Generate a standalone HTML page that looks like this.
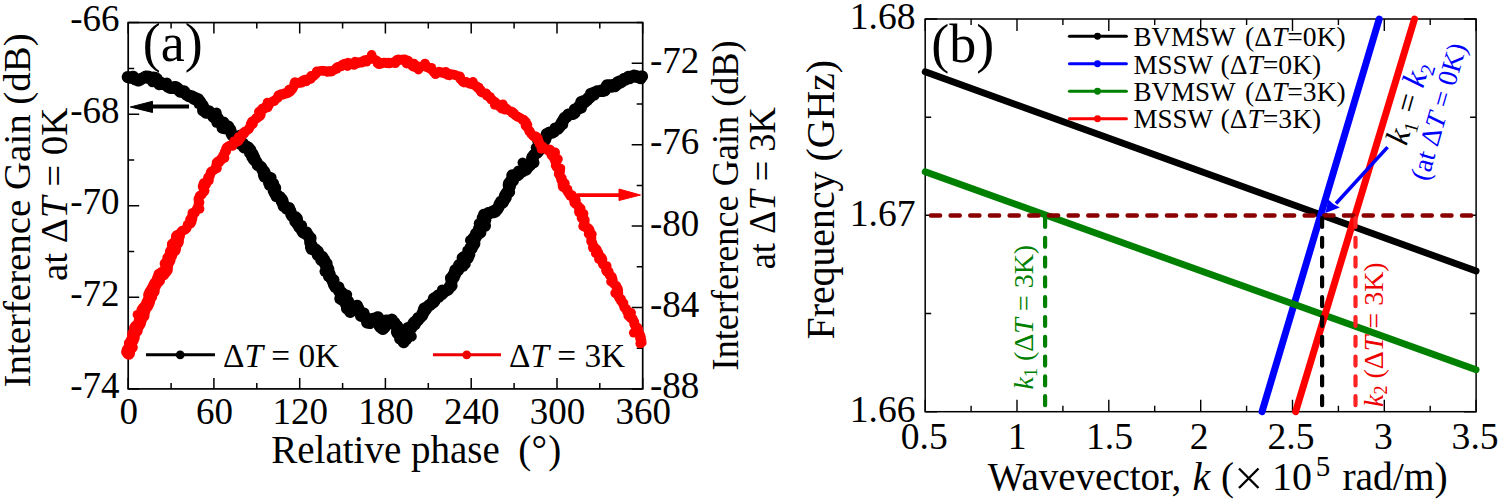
<!DOCTYPE html>
<html><head><meta charset="utf-8"><style>
html,body{margin:0;padding:0;background:#fff;}
svg{display:block;}
</style></head><body>
<svg width="1498" height="500" viewBox="0 0 1498 500">
<rect width="1498" height="500" fill="#fff"/>
<rect x="128.2" y="22.6" width="514.5" height="366.3" fill="none" stroke="#000" stroke-width="1.7"/>
<path d="M128.2,388.9v-11M128.2,22.6v11M171.1,388.9v-6M171.1,22.6v6M213.9,388.9v-11M213.9,22.6v11M256.8,388.9v-6M256.8,22.6v6M299.7,388.9v-11M299.7,22.6v11M342.6,388.9v-6M342.6,22.6v6M385.4,388.9v-11M385.4,22.6v11M428.3,388.9v-6M428.3,22.6v6M471.2,388.9v-11M471.2,22.6v11M514.1,388.9v-6M514.1,22.6v6M557.0,388.9v-11M557.0,22.6v11M599.8,388.9v-6M599.8,22.6v6M642.7,388.9v-11M642.7,22.6v11M128.2,388.9h11M128.2,343.1h6M128.2,297.3h11M128.2,251.5h6M128.2,205.8h11M128.2,160.0h6M128.2,114.2h11M128.2,68.4h6M128.2,22.6h11M642.7,388.9h-11M642.7,348.2h-6M642.7,307.5h-11M642.7,266.8h-6M642.7,226.1h-11M642.7,185.4h-6M642.7,144.7h-11M642.7,104.0h-6M642.7,63.3h-11M642.7,22.6h-6" stroke="#000" stroke-width="1.5" fill="none"/>
<polyline points="127.7,77.0 129.6,77.7 132.0,77.0 133.4,76.8 134.3,78.3 136.5,79.9 138.3,80.5 140.0,79.7 141.6,78.8 143.6,77.9 145.1,77.1 145.6,76.4 148.4,76.8 148.7,78.1 150.8,78.4 153.1,77.6 154.9,77.7 156.9,78.9 157.4,81.5 158.5,83.1 159.2,84.3 161.3,83.0 162.4,84.1 164.6,84.1 165.9,84.5 167.5,86.4 168.4,87.0 170.3,88.0 172.5,87.9 174.2,87.2 175.5,86.9 177.5,88.1 177.8,89.4 178.9,90.1 180.2,91.7 182.4,91.6 184.1,91.2 185.2,92.9 186.5,94.7 188.2,95.8 189.5,96.3 191.4,96.3 192.4,96.5 193.3,98.4 194.8,99.2 195.7,99.1 198.2,99.3 198.5,101.2 199.1,103.2 201.0,103.7 202.0,104.6 202.9,106.0 203.1,107.2 203.1,110.4 204.3,110.9 206.0,112.8 207.0,112.5 209.3,112.2 210.6,113.5 212.0,114.4 213.3,116.7 215.6,116.3 216.6,117.4 217.9,118.3 217.6,120.6 220.3,121.1 221.4,122.4 223.5,122.5 222.2,125.4 222.5,127.8 225.3,128.3 228.2,126.4 228.4,128.1 230.2,129.4 230.5,130.6 231.3,133.0 232.2,134.9 233.1,135.9 233.6,136.4 235.6,137.7 236.6,139.5 237.3,140.9 238.2,141.8 239.3,142.7 241.8,142.9 243.1,143.6 243.5,144.9 244.1,147.5 246.2,146.6 248.6,147.9 249.2,148.9 250.4,150.1 250.7,152.1 252.4,153.8 253.0,155.1 252.3,156.9 254.4,158.6 253.9,159.6 255.8,161.2 256.5,162.0 257.6,164.3 257.6,164.9 259.4,166.1 261.0,167.0 262.1,168.9 262.3,169.9 264.0,171.2 264.6,172.4 263.9,174.9 264.5,176.6 266.9,176.2 268.3,177.2 269.5,179.3 269.0,180.3 269.0,182.9 270.2,182.8 270.0,185.1 273.4,186.1 273.8,187.6 275.2,188.0 273.7,190.9 274.2,191.7 275.0,193.3 276.1,194.3 277.2,194.9 278.2,196.6 280.2,197.4 281.1,198.7 281.3,200.7 282.7,201.5 282.5,203.0 283.9,204.7 283.6,206.1 285.6,206.6 286.4,208.4 289.1,207.9 289.2,209.2 290.4,211.2 291.1,213.4 291.2,214.1 292.3,216.2 293.6,216.8 295.5,217.1 296.9,218.6 297.1,221.0 297.1,222.2 297.5,224.0 299.0,226.2 299.2,226.9 300.7,228.4 301.8,230.1 302.9,232.1 304.3,233.3 306.6,232.7 307.3,234.2 308.1,235.5 309.7,237.3 310.6,237.9 310.2,240.4 310.2,242.8 311.2,244.5 311.4,244.7 311.0,247.4 311.8,249.2 313.6,249.5 315.7,250.7 317.9,251.5 317.4,252.9 317.7,255.0 319.6,255.4 320.5,256.6 322.3,256.8 321.3,260.2 324.2,259.6 324.0,262.3 324.8,262.8 325.4,265.1 326.6,265.7 327.2,267.5 328.3,268.9 328.0,269.5 328.2,271.0 329.2,273.2 329.8,274.4 329.5,276.3 330.8,277.6 331.4,278.6 333.4,280.0 332.8,281.4 333.5,282.6 333.9,284.5 334.7,285.6 336.0,286.5 338.5,287.2 338.7,288.6 339.5,290.4 339.2,291.3 341.6,292.4 341.5,294.0 340.8,296.8 340.3,298.7 342.4,300.0 343.7,300.6 346.1,300.8 346.7,303.5 346.1,304.5 347.4,306.0 347.0,308.6 348.8,309.6 350.3,312.0 351.6,308.1 352.5,308.0 354.6,307.7 355.7,307.4 357.1,305.8 357.6,307.1 357.8,310.0 359.0,310.2 360.3,312.4 360.5,312.6 360.9,315.9 362.0,315.6 364.7,316.4 365.9,317.8 366.5,318.6 366.9,320.3 367.1,322.5 368.8,322.8 369.8,323.1 369.8,321.3 369.8,319.3 373.0,320.7 373.7,319.7 376.3,318.7 377.1,317.4 378.1,317.2 378.3,318.5 377.9,320.6 379.2,321.9 379.4,323.4 379.5,325.1 379.7,326.5 382.9,329.0 385.1,326.8 385.2,323.7 386.1,323.0 386.4,320.4 389.5,320.8 392.0,319.6 393.1,323.1 394.6,323.0 395.1,325.2 397.0,325.9 397.9,328.4 397.2,330.2 396.9,332.0 397.7,333.4 399.4,333.7 400.0,335.9 400.9,336.2 403.4,337.0 403.4,339.0 404.2,340.3 403.7,342.2 403.5,340.2 406.2,339.4 406.8,337.8 407.6,337.0 408.4,335.3 407.7,333.5 406.7,331.1 407.4,329.3 409.7,328.5 411.2,328.2 411.8,327.0 413.0,324.2 414.0,322.4 415.8,322.1 415.9,321.1 418.0,320.2 418.3,317.9 420.2,317.8 420.6,317.1 421.6,316.1 422.1,314.2 422.7,313.1 424.0,311.9 423.6,310.5 424.2,308.5 426.6,307.4 427.6,306.9 428.7,305.6 430.1,305.0 431.3,303.5 432.7,303.0 433.3,302.5 434.6,300.5 433.9,298.3 436.1,297.5 437.2,296.4 438.8,296.9 440.1,294.8 441.8,294.3 442.8,292.9 443.7,292.5 444.9,291.2 447.0,290.1 448.0,289.8 449.2,287.9 451.5,285.8 451.0,284.8 451.3,283.1 451.7,280.8 451.2,279.3 451.0,278.3 453.8,277.3 453.8,276.2 455.2,274.2 455.0,272.1 455.0,270.3 456.5,269.3 458.2,269.2 459.2,267.8 459.0,265.1 461.2,265.0 463.5,264.5 464.6,263.9 463.3,260.0 463.8,258.2 463.8,257.1 467.7,258.3 468.5,256.1 469.3,254.5 468.6,253.3 468.3,250.8 469.8,250.0 470.2,248.2 472.0,247.1 472.6,245.6 474.4,244.0 474.3,242.7 473.7,240.9 473.6,237.9 475.3,238.0 476.5,235.6 476.0,233.6 478.8,233.4 480.4,232.5 480.3,230.6 478.9,228.6 480.4,227.4 481.4,226.5 485.0,225.8 483.9,223.3 483.2,221.3 483.5,220.4 482.7,218.0 483.8,216.2 484.0,214.7 487.2,214.9 487.7,214.0 488.6,213.0 490.3,212.8 492.1,212.2 494.4,212.2 495.5,211.4 495.7,210.0 497.3,209.2 498.1,207.8 499.1,205.8 499.7,203.8 500.6,202.6 501.0,201.8 503.3,201.8 503.4,200.0 504.8,199.0 504.8,197.2 504.8,195.9 505.5,194.7 506.9,192.7 509.1,192.1 508.6,190.7 508.7,189.3 509.2,187.6 508.7,185.1 509.0,183.4 510.5,181.6 512.9,180.9 512.2,179.3 512.8,177.5 512.3,175.4 515.0,174.8 517.6,175.4 519.0,174.1 518.7,171.5 520.1,171.5 522.8,171.2 523.9,170.2 526.4,169.6 526.9,168.2 528.7,166.5 528.3,164.9 530.5,164.7 531.4,162.8 532.7,161.6 532.2,159.1 532.1,157.4 533.5,156.5 533.7,155.7 535.4,153.7 537.4,152.5 538.8,150.8 538.2,149.2 540.0,147.9 541.2,146.4 542.0,145.9 541.5,143.4 543.2,142.3 543.5,141.0 545.2,139.9 545.8,137.4 546.4,136.6 546.7,134.0 548.2,133.4 549.8,132.4 552.2,132.7 553.6,131.9 554.6,130.9 555.6,129.5 557.8,128.8 559.1,127.4 560.1,126.2 560.9,124.5 562.2,124.1 562.0,122.1 563.4,120.4 563.8,119.5 564.8,117.7 566.5,117.1 568.2,114.7 568.7,114.4 570.6,114.1 573.0,114.0 574.8,112.9 575.0,111.9 574.8,109.4 577.1,109.3 578.3,108.7 580.9,107.7 580.7,105.7 581.1,104.2 581.3,102.0 583.3,101.1 585.0,101.4 587.1,100.3 587.3,99.3 588.7,97.5 589.8,97.5 591.2,95.5 591.0,93.6 592.4,93.7 593.8,92.6 596.0,92.3 597.2,91.2 599.3,91.0 600.9,90.8 602.6,91.1 603.7,90.9 605.0,89.0 605.7,87.8 607.1,85.3 608.8,85.2 610.7,85.2 612.8,85.1 615.0,86.2 615.2,84.7 617.3,83.1 617.7,82.1 620.2,81.3 621.2,82.2 623.3,80.5 623.7,79.1 625.6,79.5 627.3,78.1 629.5,78.3 629.6,76.7 631.8,76.7 634.0,75.6 635.7,75.9 635.8,76.2 637.4,76.9 639.0,77.6 640.8,76.7 642.1,76.4" fill="none" stroke="#000" stroke-width="12" stroke-linejoin="round" stroke-linecap="round"/>
<g fill="#000"><circle cx="127.5" cy="77.3" r="5.2"/><circle cx="134.6" cy="79.8" r="5.2"/><circle cx="141.3" cy="78.1" r="5.2"/><circle cx="147.9" cy="77.1" r="5.2"/><circle cx="152.4" cy="82.1" r="5.2"/><circle cx="159.5" cy="83.9" r="5.2"/><circle cx="166.9" cy="82.6" r="5.2"/><circle cx="171.7" cy="88.2" r="5.2"/><circle cx="178.1" cy="89.2" r="5.2"/><circle cx="183.6" cy="92.8" r="5.2"/><circle cx="189.9" cy="95.0" r="5.2"/><circle cx="195.8" cy="97.2" r="5.2"/><circle cx="200.8" cy="101.3" r="5.2"/><circle cx="204.0" cy="107.1" r="5.2"/><circle cx="209.4" cy="110.5" r="5.2"/><circle cx="216.5" cy="112.6" r="5.2"/><circle cx="216.5" cy="122.6" r="5.2"/><circle cx="224.2" cy="124.0" r="5.2"/><circle cx="228.2" cy="128.9" r="5.2"/><circle cx="231.6" cy="134.8" r="5.2"/><circle cx="240.3" cy="134.7" r="5.2"/><circle cx="240.1" cy="144.5" r="5.2"/><circle cx="247.6" cy="146.4" r="5.2"/><circle cx="249.3" cy="153.4" r="5.2"/><circle cx="255.1" cy="157.5" r="5.2"/><circle cx="257.5" cy="163.7" r="5.2"/><circle cx="261.6" cy="168.8" r="5.2"/><circle cx="265.1" cy="174.0" r="5.2"/><circle cx="271.4" cy="177.5" r="5.2"/><circle cx="273.9" cy="183.2" r="5.2"/><circle cx="274.7" cy="190.0" r="5.2"/><circle cx="275.8" cy="196.8" r="5.2"/><circle cx="282.7" cy="199.3" r="5.2"/><circle cx="284.9" cy="205.4" r="5.2"/><circle cx="289.1" cy="210.2" r="5.2"/><circle cx="292.1" cy="215.9" r="5.2"/><circle cx="294.6" cy="221.9" r="5.2"/><circle cx="301.9" cy="225.2" r="5.2"/><circle cx="304.6" cy="232.2" r="5.2"/><circle cx="308.5" cy="237.6" r="5.2"/><circle cx="311.1" cy="243.7" r="5.2"/><circle cx="315.7" cy="248.4" r="5.2"/><circle cx="319.3" cy="253.8" r="5.2"/><circle cx="323.4" cy="258.3" r="5.2"/><circle cx="327.4" cy="263.1" r="5.2"/><circle cx="324.7" cy="271.5" r="5.2"/><circle cx="328.2" cy="276.6" r="5.2"/><circle cx="333.6" cy="281.4" r="5.2"/><circle cx="334.8" cy="287.5" r="5.2"/><circle cx="340.5" cy="291.3" r="5.2"/><circle cx="347.0" cy="294.7" r="5.2"/><circle cx="348.9" cy="301.0" r="5.2"/><circle cx="349.7" cy="308.8" r="5.2"/><circle cx="356.1" cy="310.0" r="5.2"/><circle cx="359.1" cy="308.5" r="5.2"/><circle cx="364.3" cy="312.6" r="5.2"/><circle cx="366.7" cy="318.6" r="5.2"/><circle cx="370.3" cy="322.1" r="5.2"/><circle cx="372.8" cy="318.0" r="5.2"/><circle cx="379.0" cy="318.1" r="5.2"/><circle cx="382.3" cy="323.8" r="5.2"/><circle cx="385.0" cy="323.9" r="5.2"/><circle cx="391.9" cy="319.9" r="5.2"/><circle cx="397.5" cy="325.6" r="5.2"/><circle cx="398.8" cy="332.4" r="5.2"/><circle cx="399.3" cy="339.1" r="5.2"/><circle cx="404.3" cy="340.6" r="5.2"/><circle cx="411.6" cy="336.4" r="5.2"/><circle cx="407.5" cy="327.1" r="5.2"/><circle cx="415.5" cy="324.8" r="5.2"/><circle cx="418.0" cy="318.4" r="5.2"/><circle cx="423.2" cy="315.2" r="5.2"/><circle cx="426.5" cy="309.8" r="5.2"/><circle cx="430.1" cy="304.6" r="5.2"/><circle cx="435.2" cy="301.3" r="5.2"/><circle cx="437.9" cy="294.8" r="5.2"/><circle cx="442.1" cy="289.8" r="5.2"/><circle cx="448.5" cy="287.0" r="5.2"/><circle cx="451.5" cy="281.3" r="5.2"/><circle cx="452.6" cy="274.6" r="5.2"/><circle cx="458.6" cy="270.9" r="5.2"/><circle cx="463.3" cy="266.5" r="5.2"/><circle cx="461.8" cy="257.8" r="5.2"/><circle cx="468.2" cy="254.4" r="5.2"/><circle cx="472.4" cy="248.9" r="5.2"/><circle cx="470.2" cy="240.3" r="5.2"/><circle cx="477.0" cy="236.2" r="5.2"/><circle cx="479.2" cy="229.8" r="5.2"/><circle cx="478.9" cy="223.4" r="5.2"/><circle cx="486.1" cy="220.3" r="5.2"/><circle cx="488.3" cy="214.5" r="5.2"/><circle cx="492.9" cy="210.4" r="5.2"/><circle cx="498.7" cy="207.9" r="5.2"/><circle cx="503.0" cy="203.2" r="5.2"/><circle cx="506.6" cy="197.8" r="5.2"/><circle cx="508.6" cy="192.0" r="5.2"/><circle cx="510.7" cy="186.4" r="5.2"/><circle cx="511.3" cy="178.9" r="5.2"/><circle cx="517.0" cy="174.4" r="5.2"/><circle cx="522.7" cy="170.9" r="5.2"/><circle cx="522.7" cy="162.6" r="5.2"/><circle cx="534.3" cy="162.8" r="5.2"/><circle cx="533.4" cy="154.6" r="5.2"/><circle cx="535.9" cy="147.6" r="5.2"/><circle cx="537.5" cy="141.2" r="5.2"/><circle cx="544.8" cy="137.2" r="5.2"/><circle cx="549.8" cy="132.6" r="5.2"/><circle cx="554.8" cy="127.7" r="5.2"/><circle cx="560.2" cy="124.0" r="5.2"/><circle cx="563.5" cy="118.5" r="5.2"/><circle cx="569.7" cy="114.9" r="5.2"/><circle cx="574.8" cy="111.1" r="5.2"/><circle cx="578.5" cy="105.7" r="5.2"/><circle cx="584.8" cy="103.0" r="5.2"/><circle cx="589.2" cy="98.4" r="5.2"/><circle cx="594.5" cy="95.2" r="5.2"/><circle cx="599.3" cy="91.6" r="5.2"/><circle cx="605.5" cy="90.9" r="5.2"/><circle cx="611.5" cy="87.6" r="5.2"/><circle cx="617.7" cy="84.7" r="5.2"/><circle cx="623.2" cy="80.8" r="5.2"/><circle cx="628.1" cy="76.0" r="5.2"/><circle cx="634.6" cy="77.3" r="5.2"/><circle cx="641.1" cy="79.1" r="5.2"/></g>
<polyline points="128.7,353.4 127.5,352.0 128.1,349.8 129.4,348.7 131.4,347.4 130.7,345.7 130.2,343.4 131.2,342.5 132.0,340.7 132.9,339.0 133.4,337.7 133.4,335.8 133.5,333.9 134.0,333.1 135.5,331.5 136.4,330.5 135.4,328.0 136.2,326.7 137.9,325.9 139.0,324.3 139.7,323.0 139.8,321.6 140.6,319.9 140.4,318.1 141.7,316.5 143.2,315.7 143.2,313.9 143.3,312.2 142.7,310.2 143.9,308.6 145.3,307.1 146.5,306.4 147.6,304.6 147.6,302.7 148.7,302.1 149.0,299.7 149.8,298.0 150.8,296.8 149.5,295.0 150.3,293.1 150.9,291.7 153.4,291.2 152.5,289.2 153.8,287.3 154.4,285.6 155.1,284.5 155.7,283.2 156.9,281.9 158.7,280.4 158.2,278.9 159.0,277.1 159.6,274.9 161.3,274.5 162.2,272.9 164.5,272.5 165.1,271.4 166.5,269.9 166.5,267.6 166.8,265.7 166.1,263.9 167.3,263.2 168.4,261.6 169.2,260.1 168.6,258.1 169.5,257.2 170.8,255.6 171.1,254.4 171.2,252.3 172.8,251.4 174.3,250.2 174.7,248.8 173.7,246.7 173.2,244.6 174.0,243.9 177.1,242.9 177.6,241.5 177.5,240.1 177.8,237.9 177.3,236.3 178.6,236.0 180.1,234.6 180.3,233.0 180.8,231.9 181.9,230.7 184.2,230.2 185.4,229.7 186.7,228.4 187.4,226.7 188.3,225.4 188.5,224.2 190.9,223.6 191.8,221.6 192.0,220.0 192.6,218.8 191.9,216.2 193.3,215.5 193.8,213.3 195.3,212.7 195.6,210.5 196.5,209.6 197.1,208.1 197.6,207.1 198.7,205.6 198.4,203.5 199.4,202.1 198.4,200.6 198.3,198.5 199.5,197.5 200.2,196.1 201.9,194.5 202.7,193.0 203.9,192.1 203.9,190.7 203.5,189.0 202.5,186.5 202.8,185.4 203.7,182.9 205.6,183.0 206.5,181.0 209.0,180.6 209.1,178.7 208.7,176.3 210.3,175.4 210.2,173.3 211.2,172.8 211.9,171.0 214.2,170.1 215.1,168.4 215.6,167.0 216.1,165.0 217.2,164.3 216.5,162.5 217.7,161.2 219.1,160.6 221.5,159.8 221.2,158.4 222.6,157.0 223.0,155.3 224.3,154.3 224.4,152.2 226.1,151.4 225.8,148.9 226.7,147.1 227.9,146.8 229.7,145.8 232.4,146.0 232.9,144.4 234.4,143.6 234.7,141.8 236.6,141.9 238.8,141.2 239.1,139.9 240.5,138.4 241.1,137.7 241.9,135.0 242.2,133.8 243.5,132.7 244.6,131.5 246.2,131.0 247.6,130.1 249.0,129.0 249.6,127.3 250.9,125.6 250.5,124.1 251.3,123.0 251.7,121.5 253.7,120.5 255.0,119.2 256.1,117.9 257.8,117.5 259.6,116.4 260.7,115.4 261.0,114.0 261.1,111.3 261.3,110.0 262.0,108.5 264.5,108.6 264.9,107.2 267.8,107.5 268.1,105.3 269.0,105.2 269.4,102.6 271.2,102.3 273.1,101.0 274.2,100.9 275.2,99.9 276.3,98.8 277.9,98.0 278.4,96.1 279.9,95.9 280.8,94.1 283.2,94.7 284.1,93.5 286.3,93.7 287.9,93.2 289.2,92.4 290.2,91.9 291.5,90.3 292.7,88.9 293.3,87.6 294.0,86.0 294.2,83.6 294.8,81.9 297.9,83.0 299.5,83.1 302.0,82.9 301.9,80.9 303.5,79.9 305.1,79.4 307.4,79.7 308.9,78.6 311.0,79.0 312.1,77.0 313.6,76.3 314.7,75.1 316.1,73.9 316.7,72.1 319.1,71.4 320.3,70.9 322.1,70.5 323.5,70.8 326.1,71.1 327.5,72.0 328.6,71.0 330.1,71.8 331.8,71.5 333.4,70.2 334.9,69.8 336.1,67.8 337.7,66.7 338.9,66.7 341.1,66.6 342.8,65.4 343.7,64.8 344.6,63.5 346.2,63.8 348.0,62.6 349.4,63.2 350.5,63.2 352.3,63.0 353.9,62.7 354.9,61.6 356.9,62.1 358.4,63.2 360.0,62.8 361.8,62.8 363.4,61.5 363.9,60.3 365.8,59.7 367.8,60.4 369.3,58.9 370.8,58.7 371.1,57.2 372.3,59.1 373.8,59.0 376.1,60.2 377.2,61.0 377.3,63.4 379.0,64.3 381.0,63.9 382.3,62.9 383.2,62.4 385.2,62.4 386.8,63.4 389.1,63.5 390.2,63.4 392.0,62.8 393.1,62.4 395.3,61.2 396.7,59.8 398.4,59.3 399.3,60.3 401.6,59.7 402.6,59.5 404.5,59.1 405.8,59.7 408.1,60.4 409.2,61.7 409.9,63.4 411.0,64.5 412.4,66.2 413.8,67.1 416.0,66.0 417.6,66.1 418.9,66.3 419.7,66.7 421.6,66.7 423.0,65.9 424.4,65.9 426.3,65.8 427.0,67.5 428.8,68.1 430.6,69.2 431.7,69.3 432.9,71.2 433.7,72.3 435.8,73.6 438.0,72.7 438.9,71.6 440.8,72.2 442.3,73.0 444.1,73.5 446.0,71.8 447.2,73.6 447.7,75.2 449.2,75.5 451.5,74.3 454.1,74.5 455.1,74.9 457.2,75.7 458.4,76.3 459.9,76.1 460.9,78.6 462.0,80.5 462.7,81.9 463.9,82.7 466.1,82.3 467.8,82.6 468.8,83.7 470.7,83.8 471.8,84.5 473.7,84.5 474.7,85.6 476.0,85.7 477.1,87.6 479.0,87.5 479.6,90.0 480.8,90.0 481.3,92.1 483.0,92.9 484.5,93.2 486.0,93.3 486.6,95.7 487.6,95.7 488.7,97.1 490.3,97.0 491.2,99.5 492.5,100.0 494.1,101.4 495.2,101.9 495.8,103.2 497.3,103.6 498.6,104.8 499.4,106.6 500.8,107.6 501.6,108.7 503.8,108.8 504.5,109.6 506.7,108.6 508.3,110.1 510.1,110.8 511.1,111.3 512.4,111.7 514.2,113.1 514.5,114.6 516.1,116.0 517.1,116.7 519.1,117.4 520.9,118.1 521.9,119.1 523.9,119.6 524.8,120.9 526.1,121.8 526.1,123.7 525.4,125.7 526.8,126.8 528.0,128.8 528.9,130.0 529.2,131.5 530.3,132.4 531.4,134.3 532.0,134.9 534.5,135.8 536.5,136.4 538.1,138.6 537.7,140.5 539.0,141.9 539.5,144.1 540.4,144.5 541.8,146.2 542.8,146.4 544.1,147.7 545.3,148.9 546.6,149.3 548.6,149.4 549.9,149.3 551.1,150.6 552.5,152.6 551.2,154.9 551.7,155.7 553.2,157.0 553.8,158.2 554.7,160.5 555.4,162.2 556.2,163.2 555.5,165.5 556.5,166.8 558.0,167.4 560.5,168.4 560.1,171.0 558.8,172.2 558.6,174.1 559.4,175.4 560.6,176.9 560.7,178.1 561.0,179.8 561.8,181.2 562.5,182.6 562.3,184.7 562.7,187.2 564.2,187.6 566.0,189.3 567.7,189.2 567.5,192.0 568.3,192.9 569.8,195.3 570.2,196.1 572.6,196.4 574.0,197.6 575.0,198.9 573.9,200.9 574.3,203.0 575.1,203.7 576.8,204.8 577.6,205.8 578.6,207.6 580.8,208.3 578.9,211.1 580.6,211.8 580.8,213.2 583.6,213.9 583.2,216.0 583.6,218.0 583.3,219.6 584.9,220.0 584.8,222.1 584.3,223.5 583.0,226.3 584.9,227.1 587.3,227.3 589.0,228.5 589.8,229.9 588.9,232.0 588.5,234.0 589.6,234.8 591.0,236.6 591.6,238.0 591.2,239.7 591.3,241.9 592.5,242.6 592.9,244.7 593.5,245.4 594.1,247.0 595.3,247.9 597.0,249.6 597.2,251.1 598.5,252.6 598.2,254.4 600.0,255.7 600.8,256.8 601.8,257.7 602.6,259.2 602.3,260.9 602.3,262.8 602.9,264.5 605.1,265.7 606.8,266.0 606.9,268.4 606.8,270.0 606.8,271.7 609.0,272.0 609.1,274.0 610.5,275.4 611.1,275.9 612.1,276.9 612.6,278.4 613.0,280.4 612.8,281.8 613.6,283.7 614.7,284.8 616.3,286.4 617.0,287.4 618.0,288.7 618.4,290.5 618.2,292.2 618.5,293.1 617.9,295.7 618.5,296.8 619.3,298.5 621.1,298.9 620.7,300.8 622.2,302.5 622.8,303.7 623.2,304.8 623.9,306.5 624.1,307.5 625.8,309.1 626.8,309.9 626.8,311.7 627.8,312.7 628.6,314.8 628.2,315.9 630.0,317.3 630.3,318.0 632.8,319.1 633.1,320.5 634.5,321.9 634.0,324.0 634.8,325.4 635.8,326.3 637.6,327.6 638.4,329.2 638.2,331.0 638.4,331.7 639.9,333.9 639.9,335.9 640.0,337.3 639.8,338.3 641.6,340.0 641.7,341.4 641.9,342.6" fill="none" stroke="#f00" stroke-width="9.4" stroke-linejoin="round" stroke-linecap="round"/>
<polyline points="128.7,353.4 127.5,352.0 128.1,349.8 129.4,348.7 131.4,347.4 130.7,345.7 130.2,343.4 131.2,342.5 132.0,340.7 132.9,339.0 133.4,337.7 133.4,335.8 133.5,333.9 134.0,333.1 135.5,331.5 136.4,330.5 135.4,328.0 136.2,326.7 137.9,325.9 139.0,324.3 139.7,323.0 139.8,321.6 140.6,319.9 140.4,318.1 141.7,316.5 143.2,315.7 143.2,313.9 143.3,312.2 142.7,310.2 143.9,308.6 145.3,307.1 146.5,306.4 147.6,304.6 147.6,302.7 148.7,302.1 149.0,299.7 149.8,298.0 150.8,296.8 149.5,295.0 150.3,293.1 150.9,291.7 153.4,291.2 152.5,289.2 153.8,287.3 154.4,285.6 155.1,284.5 155.7,283.2 156.9,281.9 158.7,280.4 158.2,278.9 159.0,277.1 159.6,274.9 161.3,274.5 162.2,272.9 164.5,272.5 165.1,271.4 166.5,269.9 166.5,267.6 166.8,265.7 166.1,263.9 167.3,263.2 168.4,261.6 169.2,260.1 168.6,258.1 169.5,257.2 170.8,255.6 171.1,254.4 171.2,252.3 172.8,251.4 174.3,250.2 174.7,248.8 173.7,246.7 173.2,244.6 174.0,243.9 177.1,242.9 177.6,241.5 177.5,240.1 177.8,237.9 177.3,236.3 178.6,236.0" fill="none" stroke="#f00" stroke-width="12.6" stroke-linejoin="round" stroke-linecap="round"/>
<g fill="#f00"><circle cx="127.4" cy="353.2" r="4.8"/><circle cx="129.1" cy="346.7" r="4.8"/><circle cx="131.2" cy="340.3" r="4.8"/><circle cx="135.0" cy="334.7" r="4.8"/><circle cx="135.8" cy="328.2" r="4.8"/><circle cx="140.5" cy="323.2" r="4.8"/><circle cx="137.4" cy="314.7" r="4.8"/><circle cx="145.6" cy="311.1" r="4.8"/><circle cx="146.0" cy="304.1" r="4.8"/><circle cx="149.3" cy="298.3" r="4.8"/><circle cx="153.6" cy="292.9" r="4.8"/><circle cx="156.0" cy="286.6" r="4.8"/><circle cx="157.2" cy="279.7" r="4.8"/><circle cx="163.9" cy="275.7" r="4.8"/><circle cx="165.4" cy="269.3" r="4.8"/><circle cx="166.5" cy="262.7" r="4.8"/><circle cx="170.1" cy="257.1" r="4.8"/><circle cx="170.3" cy="250.4" r="4.8"/><circle cx="172.1" cy="244.4" r="4.8"/><circle cx="175.8" cy="239.1" r="4.8"/><circle cx="179.8" cy="234.6" r="4.8"/><circle cx="184.0" cy="230.2" r="4.8"/><circle cx="187.5" cy="224.6" r="4.8"/><circle cx="190.0" cy="219.3" r="4.8"/><circle cx="192.3" cy="213.0" r="4.8"/><circle cx="199.6" cy="208.9" r="4.8"/><circle cx="199.5" cy="202.4" r="4.8"/><circle cx="199.6" cy="195.8" r="4.8"/><circle cx="204.7" cy="190.8" r="4.8"/><circle cx="206.2" cy="184.6" r="4.8"/><circle cx="207.8" cy="177.9" r="4.8"/><circle cx="210.9" cy="172.0" r="4.8"/><circle cx="217.0" cy="168.3" r="4.8"/><circle cx="219.6" cy="162.1" r="4.8"/><circle cx="224.6" cy="157.9" r="4.8"/><circle cx="226.0" cy="151.6" r="4.8"/><circle cx="229.3" cy="145.7" r="4.8"/><circle cx="234.0" cy="141.2" r="4.8"/><circle cx="238.6" cy="137.0" r="4.8"/><circle cx="244.3" cy="133.5" r="4.8"/><circle cx="248.8" cy="128.8" r="4.8"/><circle cx="253.1" cy="123.8" r="4.8"/><circle cx="256.7" cy="118.5" r="4.8"/><circle cx="258.8" cy="111.8" r="4.8"/><circle cx="264.0" cy="108.1" r="4.8"/><circle cx="267.5" cy="102.5" r="4.8"/><circle cx="274.3" cy="101.1" r="4.8"/><circle cx="278.3" cy="95.4" r="4.8"/><circle cx="284.3" cy="93.4" r="4.8"/><circle cx="289.0" cy="89.6" r="4.8"/><circle cx="294.0" cy="85.9" r="4.8"/><circle cx="299.5" cy="82.6" r="4.8"/><circle cx="306.4" cy="81.4" r="4.8"/><circle cx="311.1" cy="75.9" r="4.8"/><circle cx="316.7" cy="71.4" r="4.8"/><circle cx="323.8" cy="70.9" r="4.8"/><circle cx="330.5" cy="71.1" r="4.8"/><circle cx="336.8" cy="68.8" r="4.8"/><circle cx="342.0" cy="64.9" r="4.8"/><circle cx="347.5" cy="66.2" r="4.8"/><circle cx="354.1" cy="65.0" r="4.8"/><circle cx="360.0" cy="62.1" r="4.8"/><circle cx="366.5" cy="61.8" r="4.8"/><circle cx="371.6" cy="54.9" r="4.8"/><circle cx="377.3" cy="61.1" r="4.8"/><circle cx="382.3" cy="63.1" r="4.8"/><circle cx="388.6" cy="62.5" r="4.8"/><circle cx="395.4" cy="63.3" r="4.8"/><circle cx="401.3" cy="59.6" r="4.8"/><circle cx="406.6" cy="63.7" r="4.8"/><circle cx="413.9" cy="63.5" r="4.8"/><circle cx="418.5" cy="69.7" r="4.8"/><circle cx="425.0" cy="63.5" r="4.8"/><circle cx="431.4" cy="67.7" r="4.8"/><circle cx="435.5" cy="74.3" r="4.8"/><circle cx="442.3" cy="72.3" r="4.8"/><circle cx="448.6" cy="73.5" r="4.8"/><circle cx="455.0" cy="75.2" r="4.8"/><circle cx="460.3" cy="79.2" r="4.8"/><circle cx="466.2" cy="81.8" r="4.8"/><circle cx="473.0" cy="81.9" r="4.8"/><circle cx="477.5" cy="86.9" r="4.8"/><circle cx="481.3" cy="92.0" r="4.8"/><circle cx="487.0" cy="94.5" r="4.8"/><circle cx="491.2" cy="99.7" r="4.8"/><circle cx="494.7" cy="104.9" r="4.8"/><circle cx="503.0" cy="104.3" r="4.8"/><circle cx="506.5" cy="109.5" r="4.8"/><circle cx="512.2" cy="113.0" r="4.8"/><circle cx="517.8" cy="116.6" r="4.8"/><circle cx="522.8" cy="120.4" r="4.8"/><circle cx="527.5" cy="125.0" r="4.8"/><circle cx="529.8" cy="131.2" r="4.8"/><circle cx="533.8" cy="136.6" r="4.8"/><circle cx="538.9" cy="141.9" r="4.8"/><circle cx="541.4" cy="148.9" r="4.8"/><circle cx="548.0" cy="150.6" r="4.8"/><circle cx="555.2" cy="152.4" r="4.8"/><circle cx="558.0" cy="159.1" r="4.8"/><circle cx="556.5" cy="166.9" r="4.8"/><circle cx="559.9" cy="172.2" r="4.8"/><circle cx="561.9" cy="178.2" r="4.8"/><circle cx="564.9" cy="183.3" r="4.8"/><circle cx="567.4" cy="189.7" r="4.8"/><circle cx="571.8" cy="195.0" r="4.8"/><circle cx="575.9" cy="200.2" r="4.8"/><circle cx="578.3" cy="206.1" r="4.8"/><circle cx="579.1" cy="212.6" r="4.8"/><circle cx="581.6" cy="218.2" r="4.8"/><circle cx="584.4" cy="223.8" r="4.8"/><circle cx="587.8" cy="229.2" r="4.8"/><circle cx="591.9" cy="234.3" r="4.8"/><circle cx="591.2" cy="241.4" r="4.8"/><circle cx="592.8" cy="247.8" r="4.8"/><circle cx="595.8" cy="253.4" r="4.8"/><circle cx="598.9" cy="259.2" r="4.8"/><circle cx="603.1" cy="264.4" r="4.8"/><circle cx="605.9" cy="270.3" r="4.8"/><circle cx="609.6" cy="275.3" r="4.8"/><circle cx="611.0" cy="281.7" r="4.8"/><circle cx="616.4" cy="285.8" r="4.8"/><circle cx="615.1" cy="293.1" r="4.8"/><circle cx="619.5" cy="298.1" r="4.8"/><circle cx="623.6" cy="303.1" r="4.8"/><circle cx="626.0" cy="308.7" r="4.8"/><circle cx="631.2" cy="312.8" r="4.8"/><circle cx="632.8" cy="318.9" r="4.8"/><circle cx="634.9" cy="325.1" r="4.8"/><circle cx="633.7" cy="332.8" r="4.8"/><circle cx="640.9" cy="336.6" r="4.8"/><circle cx="640.2" cy="343.5" r="4.8"/></g>
<path d="M150,106.6H189" stroke="#000" stroke-width="4"/><path d="M130.3,107L152.5,101.3L152.5,112.5Z" fill="#000" stroke="#000" stroke-width="1" stroke-linejoin="round"/>
<path d="M577,195.1H622" stroke="#f00" stroke-width="3.8"/><path d="M640.5,195L619,189L619,200.5Z" fill="#f00" stroke="#f00" stroke-width="1" stroke-linejoin="round"/>
<path d="M146,354.8H215" stroke="#000" stroke-width="3"/><circle cx="180.2" cy="354.8" r="4.4" fill="#000"/>
<path d="M433,354.8H501" stroke="#e00" stroke-width="3"/><circle cx="466.7" cy="354.8" r="4.4" fill="#e00"/>
<rect x="925.2" y="19.0" width="550.9" height="392.7" fill="none" stroke="#000" stroke-width="1.5"/>
<path d="M925.2,411.7v-12M925.2,19.0v12M971.1,411.7v-6M971.1,19.0v6M1017.0,411.7v-12M1017.0,19.0v12M1062.9,411.7v-6M1062.9,19.0v6M1108.8,411.7v-12M1108.8,19.0v12M1154.7,411.7v-6M1154.7,19.0v6M1200.7,411.7v-12M1200.7,19.0v12M1246.6,411.7v-6M1246.6,19.0v6M1292.5,411.7v-12M1292.5,19.0v12M1338.4,411.7v-6M1338.4,19.0v6M1384.3,411.7v-12M1384.3,19.0v12M1430.2,411.7v-6M1430.2,19.0v6M1476.1,411.7v-12M1476.1,19.0v12M925.2,411.7h12M1476.1,411.7h-12M925.2,313.5h6M1476.1,313.5h-6M925.2,215.3h12M1476.1,215.3h-12M925.2,117.2h6M1476.1,117.2h-6M925.2,19.0h12M1476.1,19.0h-12" stroke="#000" stroke-width="1.4" fill="none"/>
<path d="M925.2,71.8L1476.1,271" stroke="#000" stroke-width="6.8" stroke-linecap="round"/>
<path d="M1262,411.7L1379.2,19.0" stroke="#00f" stroke-width="7" stroke-linecap="round"/>
<path d="M925.2,171.8L1476.1,369.8" stroke="#008000" stroke-width="6.8" stroke-linecap="round"/>
<path d="M1295.6,411.7L1414.5,19.0" stroke="#f00" stroke-width="7" stroke-linecap="round"/>
<path d="M930.9,215.5H1475.1" stroke="#8a0000" stroke-width="4.4" stroke-dasharray="9.2 10.47" stroke-linecap="round" fill="none"/>
<path d="M1045.1,218V411.7" stroke="#008000" stroke-width="4.2" stroke-dasharray="9 10.8" stroke-linecap="round"/>
<path d="M1322.1,218V411.7" stroke="#000" stroke-width="4.2" stroke-dasharray="9 10.8" stroke-linecap="round"/>
<path d="M1355.5,218V411.7" stroke="#f22" stroke-width="4.2" stroke-dasharray="9 10.8" stroke-linecap="round"/>
<path d="M1239,468.5L1258.5,488M1258.5,468.5L1239,488" stroke="#000" stroke-width="2.4"/>
<path d="M1069.5,36.25H1126.3" stroke="#000" stroke-width="3.2" stroke-linecap="round"/><circle cx="1097.5" cy="36.25" r="3.4" fill="#000"/>
<path d="M1069.5,63.75H1126.3" stroke="#00f" stroke-width="3.2" stroke-linecap="round"/><circle cx="1097.5" cy="63.75" r="3.4" fill="#00f"/>
<path d="M1069.5,91.25H1126.3" stroke="#008000" stroke-width="3.2" stroke-linecap="round"/><circle cx="1097.5" cy="91.25" r="3.4" fill="#008000"/>
<path d="M1069.5,118.75H1126.3" stroke="#f00" stroke-width="3.2" stroke-linecap="round"/><circle cx="1097.5" cy="118.75" r="3.4" fill="#f00"/>
<path d="M1387.6,147.1L1336,203.5" stroke="#00f" stroke-width="3.6"/><path d="M1325.4,212.9L1328.4,199.5L1333,203.8L1339.8,207.5Z" fill="#00f"/>
<g font-family="Liberation Serif, serif" fill="#000">
<text x="119.60" y="31.30" font-size="37" text-anchor="end">-66</text>
<text x="119.60" y="122.88" font-size="37" text-anchor="end">-68</text>
<text x="119.60" y="214.45" font-size="37" text-anchor="end">-70</text>
<text x="119.60" y="306.02" font-size="37" text-anchor="end">-72</text>
<text x="119.60" y="397.60" font-size="37" text-anchor="end">-74</text>
<text x="650.00" y="72.70" font-size="37" >-72</text>
<text x="650.00" y="154.10" font-size="37" >-76</text>
<text x="650.00" y="235.50" font-size="37" >-80</text>
<text x="650.00" y="316.90" font-size="37" >-84</text>
<text x="650.00" y="398.30" font-size="37" >-88</text>
<text x="128.70" y="423.60" font-size="37" text-anchor="middle">0</text>
<text x="214.45" y="423.60" font-size="37" text-anchor="middle">60</text>
<text x="300.20" y="423.60" font-size="37" text-anchor="middle">120</text>
<text x="385.95" y="423.60" font-size="37" text-anchor="middle">180</text>
<text x="471.70" y="423.60" font-size="37" text-anchor="middle">240</text>
<text x="557.45" y="423.60" font-size="37" text-anchor="middle">300</text>
<text x="643.20" y="423.60" font-size="37" text-anchor="middle">360</text>
<text x="142.80" y="61.40" font-size="54" >(a)</text>
<text x="271.30" y="463.10" font-size="39" >Relative phase</text>
<text x="518.20" y="463.10" font-size="39" >(</text>
<text x="531.60" y="463.10" font-size="39" >°</text>
<text x="548.20" y="463.10" font-size="39" >)</text>
<text transform="translate(30.20,387.50) rotate(-90)" font-size="38.9" >Interference Gain (dB)</text>
<text transform="translate(67.40,281.00) rotate(-90)" font-size="38.9" >at Δ<tspan font-style="italic">T</tspan> = 0K</text>
<text transform="translate(738.00,370.40) rotate(-90)" font-size="38.9" textLength="330" lengthAdjust="spacingAndGlyphs">Interference Gain (dB)</text>
<text transform="translate(774.70,269.30) rotate(-90)" font-size="38.9" textLength="162" lengthAdjust="spacingAndGlyphs">at Δ<tspan font-style="italic">T</tspan> = 3K</text>
<text x="223.00" y="367.20" font-size="33.3" >Δ<tspan font-style="italic">T</tspan> = 0K</text>
<text x="509.00" y="367.30" font-size="33.3" >Δ<tspan font-style="italic">T</tspan> = 3K</text>
<text x="915.60" y="29.20" font-size="37.6" text-anchor="end">1.68</text>
<text x="915.60" y="225.55" font-size="37.6" text-anchor="end">1.67</text>
<text x="915.60" y="421.90" font-size="37.6" text-anchor="end">1.66</text>
<text x="924.20" y="448.60" font-size="37.6" text-anchor="middle">0.5</text>
<text x="1017.20" y="448.60" font-size="37.6" text-anchor="middle">1</text>
<text x="1109.50" y="448.60" font-size="37.6" text-anchor="middle">1.5</text>
<text x="1199.10" y="448.60" font-size="37.6" text-anchor="middle">2</text>
<text x="1290.95" y="448.60" font-size="37.6" text-anchor="middle">2.5</text>
<text x="1383.30" y="448.60" font-size="37.6" text-anchor="middle">3</text>
<text x="1475.10" y="448.60" font-size="37.6" text-anchor="middle">3.5</text>
<text x="931.20" y="61.90" font-size="54" >(b)</text>
<text x="987.80" y="489.50" font-size="39" >Wavevector,</text>
<text x="1192.50" y="489.50" font-size="40" font-style="italic">k</text>
<text x="1221.00" y="489.50" font-size="39" >(</text>
<text x="1272.00" y="489.50" font-size="40" >10</text>
<text x="1315.70" y="475.70" font-size="29" >5</text>
<text x="1342.40" y="489.50" font-size="39.5" >rad/m)</text>
<text transform="translate(834.00,339.50) rotate(-90)" font-size="39.8" >Frequency (GHz)</text>
<text x="1133.50" y="46.20" font-size="27" >BVMSW</text>
<text x="1245.00" y="46.20" font-size="27.6" >(Δ<tspan font-style="italic">T</tspan>=0K)</text>
<text x="1133.50" y="73.60" font-size="27" >MSSW</text>
<text x="1220.50" y="73.60" font-size="27.6" >(Δ<tspan font-style="italic">T</tspan>=0K)</text>
<text x="1133.50" y="101.00" font-size="27" >BVMSW</text>
<text x="1245.00" y="101.00" font-size="27.6" >(Δ<tspan font-style="italic">T</tspan>=3K)</text>
<text x="1133.50" y="128.40" font-size="27" >MSSW</text>
<text x="1220.50" y="128.40" font-size="27.6" >(Δ<tspan font-style="italic">T</tspan>=3K)</text>
<text transform="translate(1033.40,389.50) rotate(-90)" font-size="28" fill="#008000"><tspan font-style="italic">k</tspan><tspan font-size="18" dy="4">1</tspan><tspan dy="-4"> (Δ</tspan><tspan font-style="italic">T</tspan> = 3K)</text>
<text transform="translate(1382.60,407.00) rotate(-90)" font-size="28" fill="#e00"><tspan font-style="italic">k</tspan><tspan font-size="18" dy="4">2</tspan><tspan dy="-4"> (Δ</tspan><tspan font-style="italic">T</tspan> = 3K)</text>
<text transform="translate(1406.50,146.50) rotate(-74)" font-size="33" fill="#000"><tspan font-style="italic">k</tspan><tspan font-size="20" dy="6">1</tspan><tspan dy="-6"> = </tspan><tspan fill="#00f" font-style="italic">k</tspan><tspan fill="#00f" font-size="20" dy="6">2</tspan></text>
<text transform="translate(1427.70,182.00) rotate(-74)" font-size="27.6" fill="#00f">(at Δ<tspan font-style="italic">T</tspan> = 0K)</text>
</g>
</svg>
</body></html>
